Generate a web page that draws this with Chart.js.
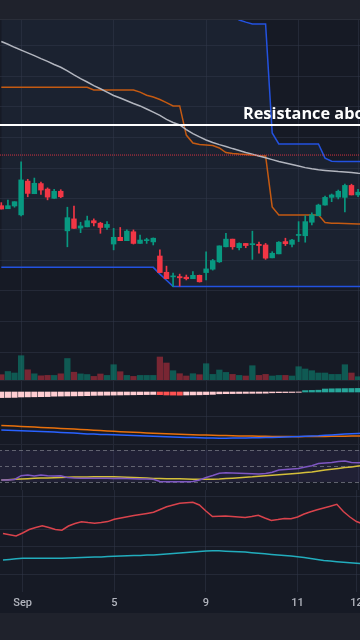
<!DOCTYPE html>
<html>
<head>
<meta charset="utf-8">
<script src="https://cdn.jsdelivr.net/npm/chart.js@4.4.1/dist/chart.umd.min.js"></script>
<style>
  html, body { margin: 0; padding: 0; }
  body { width: 360px; height: 640px; overflow: hidden; position: relative; background: #161a25; }
  .pane { position: absolute; left: -1.8px; width: 370px; }
  .sep { position: absolute; left: 0; width: 360px; height: 1px; background: #232733; }
  #topbar { position: absolute; left: 0; top: 0; width: 360px; height: 19px; background: #1f222c; border-bottom: 1px solid #2a2e39; }
  #bottombar { position: absolute; left: 0; top: 613px; width: 360px; height: 27px; background: #1f222c; }
  #resLabel { position: absolute; left: 243px; top: 104.5px; color: #fff; font: 700 16.3px/17px 'Open Sans', sans-serif; white-space: nowrap; }
</style>
</head>
<body>
<div id="topbar"></div>
<div class="pane" style="top:20px;height:360px"><canvas id="priceCanvas"></canvas></div>
<div class="sep" style="top:380px"></div>
<div class="pane" style="top:381px;height:63px"><canvas id="macdCanvas"></canvas></div>
<div class="sep" style="top:444px"></div>
<div class="pane" style="top:445px;height:45px"><canvas id="rsiCanvas"></canvas></div>
<div class="pane" style="top:490px;height:123px"><canvas id="oscCanvas"></canvas></div>
<div id="bottombar"></div>
<div id="resLabel">Resistance above</div>

<script>
// --- data ---

const tickIndex = [3, 17, 31, 45, 54];
const tickLabels = ['Sep', '5', '9', '11', '12'];

const opens  = [102.78, 102.68, 102.77, 102.48, 103.58, 103.17, 103.50, 103.32, 103.02, 103.25,
                101.96, 102.35, 102.05, 102.09, 102.29, 102.21, 102.07, 101.53, 101.75, 101.64,
                101.93, 101.55, 101.64, 101.60, 101.14, 100.61, 100.46, 100.47, 100.45, 100.40,
                100.51, 100.60, 100.71, 100.95, 101.44, 101.69, 101.41, 101.55, 101.51, 101.52,
                101.50, 101.08, 101.21, 101.61, 101.52, 101.81, 101.80, 102.24, 102.45, 102.80,
                103.05, 103.06, 103.05, 103.44, 103.13, 103.19];
const highs  = [102.88, 102.96, 102.91, 104.21, 103.64, 103.68, 103.55, 103.36, 103.31, 103.30,
                102.73, 102.77, 102.24, 102.44, 102.35, 102.24, 102.26, 102.04, 102.07, 101.99,
                101.99, 101.82, 101.72, 101.73, 101.34, 100.81, 100.58, 100.55, 100.52, 100.63,
                100.52, 101.28, 101.03, 101.47, 101.88, 101.69, 101.57, 101.55, 101.95, 101.59,
                101.55, 101.28, 101.61, 101.72, 101.68, 102.26, 102.45, 102.55, 102.83, 103.09,
                103.16, 103.29, 103.48, 103.48, 103.31, 103.33];
const lows   = [102.67, 102.68, 102.73, 102.45, 103.07, 103.17, 103.15, 102.97, 103.02, 103.04,
                101.44, 102.04, 101.90, 102.09, 102.12, 101.88, 102.01, 101.34, 101.64, 101.64,
                101.53, 101.55, 101.55, 101.50, 100.60, 100.40, 100.14, 100.16, 100.36, 100.40,
                100.29, 100.36, 100.68, 100.93, 101.44, 101.36, 101.34, 101.41, 101.03, 101.23,
                101.03, 101.08, 101.21, 101.48, 101.44, 101.61, 101.59, 102.15, 102.45, 102.80,
                102.91, 103.00, 102.58, 103.13, 103.07, 103.13];
const closes = [102.67, 102.78, 102.91, 103.62, 103.18, 103.51, 103.29, 103.06, 103.25, 103.07,
                102.39, 102.04, 102.12, 102.29, 102.22, 102.07, 102.17, 101.75, 101.64, 101.95,
                101.55, 101.66, 101.67, 101.72, 100.60, 100.40, 100.48, 100.43, 100.40, 100.51,
                100.30, 100.72, 100.99, 101.47, 101.69, 101.44, 101.55, 101.48, 101.53, 101.48,
                101.07, 101.23, 101.59, 101.54, 101.66, 101.83, 102.26, 102.48, 102.80, 103.05,
                103.13, 103.25, 103.44, 103.13, 103.22, 103.29];
const volumes = [5300, 8500, 7000, 24300, 10200, 6200, 4200, 4600, 4600, 6200,
                 21500, 7800, 6100, 5500, 3600, 6000, 4600, 15300, 8300, 4600,
                 3600, 4600, 4600, 4600, 23000, 17000, 9300, 6300, 4000, 6300,
                 5300, 16300, 5600, 10000, 7600, 5600, 4600, 4000, 14300, 4600,
                 5600, 4000, 4600, 4600, 4000, 13300, 11000, 9300, 7000, 7000,
                 5600, 5600, 15300, 7000, 3300, 5000];

const slowMa = [108.13, 108.04, 107.94, 107.85, 107.76, 107.67, 107.57, 107.48, 107.38, 107.29,
                107.17, 107.04, 106.92, 106.81, 106.69, 106.59, 106.48, 106.37, 106.29, 106.20,
                106.11, 106.03, 105.93, 105.83, 105.72, 105.59, 105.49, 105.41, 105.26, 105.13,
                105.02, 104.92, 104.84, 104.77, 104.71, 104.64, 104.58, 104.51, 104.46, 104.40,
                104.34, 104.28, 104.22, 104.17, 104.12, 104.07, 104.02, 103.98, 103.95, 103.93,
                103.91, 103.89, 103.88, 103.86, 103.84, 103.83];
const midLine = [106.64, 106.64, 106.64, 106.64, 106.64, 106.64, 106.64, 106.64, 106.64, 106.64,
                 106.64, 106.64, 106.64, 106.64, 106.55, 106.55, 106.55, 106.55, 106.55, 106.55,
                 106.55, 106.48, 106.38, 106.32, 106.24, 106.14, 106.03, 106.03, 105.08, 104.82,
                 104.77, 104.76, 104.74, 104.66, 104.51, 104.48, 104.46, 104.45, 104.43, 104.41,
                 104.40, 102.74, 102.48, 102.48, 102.48, 102.48, 102.48, 102.48, 102.48, 102.23,
                 102.21, 102.21, 102.20, 102.19, 102.18, 102.18];
const upperBand = [109.15, 109.15, 109.15, 109.15, 109.15, 109.15, 109.15, 109.15, 109.15, 109.15,
                   109.15, 109.15, 109.15, 109.15, 109.15, 109.15, 109.15, 109.15, 109.15, 109.15,
                   109.15, 109.15, 109.15, 109.15, 109.15, 109.15, 109.15, 109.15, 109.15, 109.15,
                   109.15, 109.15, 109.15, 109.15, 109.15, 108.99, 108.83, 108.76, 108.70, 108.70,
                   108.70, 105.15, 104.79, 104.79, 104.79, 104.79, 104.79, 104.79, 104.79, 104.33,
                   104.23, 104.22, 104.22, 104.22, 104.22, 104.22];
const lowerBand = [100.77, 100.77, 100.77, 100.77, 100.77, 100.77, 100.77, 100.77, 100.77, 100.77,
                   100.77, 100.77, 100.77, 100.77, 100.77, 100.77, 100.77, 100.77, 100.77, 100.77,
                   100.77, 100.77, 100.77, 100.77, 100.55, 100.35, 100.15, 100.15, 100.15, 100.15,
                   100.15, 100.15, 100.15, 100.15, 100.15, 100.15, 100.15, 100.15, 100.15, 100.15,
                   100.15, 100.15, 100.15, 100.15, 100.15, 100.15, 100.15, 100.15, 100.15, 100.15,
                   100.15, 100.15, 100.15, 100.15, 100.15, 100.15];
const resistanceLevel = 105.41;
const alertLevel = 104.43;
const priceTicks = [98, 99, 100, 101, 102, 103, 104, 105, 106, 107, 108];

const macdLine = [-0.381, -0.383, -0.386, -0.388, -0.391, -0.393, -0.396, -0.398, -0.401, -0.404,
                  -0.407, -0.411, -0.415, -0.419, -0.421, -0.424, -0.426, -0.428, -0.430, -0.433,
                  -0.435, -0.438, -0.440, -0.443, -0.445, -0.448, -0.450, -0.453, -0.455, -0.456,
                  -0.458, -0.460, -0.461, -0.463, -0.462, -0.461, -0.460, -0.459, -0.458, -0.457,
                  -0.455, -0.454, -0.453, -0.451, -0.448, -0.445, -0.443, -0.440, -0.438, -0.433,
                  -0.429, -0.424, -0.420, -0.417, -0.414, -0.411];
const signalLine = [-0.334, -0.337, -0.340, -0.344, -0.347, -0.350, -0.354, -0.357, -0.360, -0.364,
                    -0.367, -0.371, -0.375, -0.378, -0.382, -0.386, -0.390, -0.393, -0.397, -0.400,
                    -0.403, -0.406, -0.409, -0.412, -0.414, -0.417, -0.420, -0.423, -0.425, -0.427,
                    -0.429, -0.430, -0.432, -0.434, -0.436, -0.438, -0.440, -0.441, -0.441, -0.442,
                    -0.443, -0.444, -0.445, -0.445, -0.446, -0.447, -0.446, -0.446, -0.445, -0.444,
                    -0.443, -0.443, -0.442, -0.441, -0.440, -0.440];
const histogram = [-0.056, -0.055, -0.054, -0.050, -0.049, -0.048, -0.047, -0.046, -0.042, -0.041,
                   -0.040, -0.039, -0.038, -0.037, -0.034, -0.033, -0.032, -0.031, -0.030, -0.029,
                   -0.028, -0.027, -0.026, -0.025, -0.027, -0.030, -0.031, -0.032, -0.030, -0.029,
                   -0.028, -0.026, -0.024, -0.018, -0.017, -0.016, -0.015, -0.014, -0.0135, -0.013,
                   -0.012, -0.008, -0.007, -0.006, -0.005, -0.003, 0.014, 0.016, 0.018, 0.030,
                   0.032, 0.033, 0.034, 0.035, 0.036, 0.037];
const macdTicks = [-0.24];

const rsi = [32.5, 32.5, 33.1, 37.9, 38.75, 37.5, 38.75, 37.75, 37.5, 37.75,
             35.6, 35.0, 34.6, 34.6, 34.6, 34.75, 34.6, 34.4, 34.6, 34.4,
             34.0, 33.75, 33.75, 33.4, 30.6, 30.4, 30.4, 30.4, 30.4, 30.6,
             32.5, 35.6, 38.1, 40.9, 41.5, 41.25, 40.9, 40.5, 40.25, 40.0,
             40.75, 42.1, 45.0, 45.6, 46.25, 47.0, 48.75, 50.4, 53.0, 53.75,
             54.4, 55.6, 56.25, 54.4, 54.1, 54.4];
const rsiMa = [32.5, 32.9, 33.4, 33.75, 34.1, 34.6, 34.9, 35.1, 35.4, 35.6,
               35.9, 36.1, 36.25, 36.4, 36.5, 36.6, 36.6, 36.5, 36.25, 36.0,
               35.6, 35.25, 34.9, 34.5, 34.25, 34.1, 34.0, 34.0, 33.75, 33.5,
               33.4, 33.4, 33.5, 33.75, 34.25, 34.75, 35.4, 36.0, 36.5, 37.25,
               37.9, 38.5, 39.1, 39.75, 40.4, 41.0, 41.75, 42.6, 43.75, 44.9,
               46.0, 47.0, 48.0, 48.9, 49.9, 50.75];
const rsiLevels = [70, 50, 30];

const oscFast = [33.2, 32.6, 32.0, 33.5, 35.25, 36.25, 37.1, 36.25, 35.25, 34.9,
                 37.0, 38.25, 39.1, 38.7, 38.4, 38.75, 39.2, 40.35, 41.0, 41.6,
                 42.2, 42.75, 43.3, 43.9, 45.25, 46.65, 47.5, 48.35, 48.6, 48.85,
                 47.5, 44.5, 41.75, 41.85, 42.0, 41.75, 41.5, 41.2, 41.75, 42.4,
                 41.0, 39.75, 40.2, 40.75, 40.6, 41.5, 43.0, 44.1, 45.15, 46.0,
                 46.9, 47.85, 44.25, 41.5, 39.25, 38.0];
const oscSlow = [20.0, 20.3, 20.6, 20.85, 20.85, 20.85, 20.85, 20.85, 20.85, 20.85,
                 21.05, 21.15, 21.25, 21.35, 21.45, 21.55, 21.7, 21.85, 22.0, 22.1,
                 22.2, 22.3, 22.45, 22.55, 22.75, 22.95, 23.2, 23.45, 23.75, 24.0,
                 24.25, 24.5, 24.6, 24.6, 24.4, 24.25, 24.15, 23.95, 23.65, 23.4,
                 23.1, 22.8, 22.5, 22.25, 21.95, 21.65, 21.2, 20.75, 20.25, 19.8,
                 19.5, 19.15, 18.85, 18.6, 18.35, 18.15];
const oscTicks = [51.5, 35.5, 27, 13];

// --- styling ---

const GRID = 'rgba(50,56,74,0.5)';
const UP = '#089981';
const DOWN = '#f23645';

const categories = opens.map((_, i) => {
  const k = tickIndex.indexOf(i);
  return k >= 0 ? tickLabels[k] : '';
});
const candleColors = opens.map((o, i) => closes[i] >= o ? UP : DOWN);
const volColors = opens.map((o, i) => closes[i] >= o ? 'rgba(8,153,129,0.5)' : 'rgba(242,54,69,0.45)');
const bodies = opens.map((o, i) => [o, closes[i]]);
const wicks = lows.map((l, i) => [l, highs[i]]);
const histColors = histogram.map((h, i) => {
  const prev = i > 0 ? histogram[i - 1] : h - 1;
  if (h >= 0) return prev < h ? '#26a69a' : '#b2dfdb';
  return prev < h ? '#ffcdd2' : '#ff5252';
});

function xScale(showLabels) {
  return {
    type: 'category',
    offset: true,
    grid: {
      offset: false,
      drawTicks: false,
      color: c => tickIndex.includes(c.index) ? GRID : 'transparent'
    },
    border: { display: false },
    ticks: {
      display: showLabels,
      autoSkip: false,
      maxRotation: 0,
      minRotation: 0,
      padding: 5,
      color: '#b2b5be',
      font: { family: 'Roboto', size: 11, weight: '500' }
    },
    afterFit: s => { s.height = showLabels ? 21 : 0; }
  };
}

function yScale(min, max, ticks) {
  return {
    min: min,
    max: max,
    position: 'right',
    grid: { color: GRID, drawTicks: false },
    border: { display: false },
    ticks: { display: false },
    afterBuildTicks: s => { s.ticks = ticks.map(v => ({ value: v })); },
    afterFit: s => { s.width = 0; }
  };
}

const baseOptions = {
  responsive: true,
  maintainAspectRatio: false,
  animation: false,
  events: [],
  layout: { padding: 0, autoPadding: false },
  plugins: { legend: { display: false }, tooltip: { enabled: false } }
};

function lineSet(data, color, order, extra) {
  return Object.assign({
    type: 'line', data: data, borderColor: color, borderWidth: 1.5,
    pointRadius: 0, tension: 0, fill: false, order: order
  }, extra || {});
}

// horizontal levels on the price pane
const levelLines = {
  id: 'levelLines',
  afterDatasetsDraw(chart) {
    const { ctx, chartArea, scales } = chart;
    const levels = [
      { value: alertLevel, color: 'rgba(242,54,69,0.85)', width: 1, dash: [1, 1] },
      { value: resistanceLevel, color: '#ffffff', width: 2, dash: [] }
    ];
    levels.forEach(l => {
      const y = scales.y.getPixelForValue(l.value);
      ctx.save();
      ctx.strokeStyle = l.color;
      ctx.lineWidth = l.width;
      ctx.setLineDash(l.dash);
      ctx.beginPath();
      ctx.moveTo(chartArea.left, y);
      ctx.lineTo(chartArea.right, y);
      ctx.stroke();
      ctx.restore();
    });
  }
};

new Chart(document.getElementById('priceCanvas'), {
  type: 'bar',
  data: {
    labels: categories,
    datasets: [
      { type: 'bar', data: bodies, backgroundColor: candleColors, barThickness: 4.8, minBarLength: 1, grouped: false, order: 0 },
      { type: 'bar', data: wicks, backgroundColor: candleColors, barThickness: 1, grouped: false, order: 1 },
      lineSet(slowMa, '#b2b5be', 2),
      lineSet(midLine, '#c45a12', 3),
      lineSet(upperBand, '#2352e0', 4),
      lineSet(lowerBand, '#2352e0', 4, { fill: '-1', backgroundColor: '#1b2230' }),
      { type: 'bar', data: volumes, yAxisID: 'yv', backgroundColor: volColors, barThickness: 5.6, grouped: false, order: 9 }
    ]
  },
  options: Object.assign({}, baseOptions, {
    plugins: Object.assign({}, baseOptions.plugins, { filler: { drawTime: 'beforeDraw' } }),
    scales: {
      x: xScale(false),
      y: yScale(97.10, 108.83, priceTicks),
      yv: { display: false, min: 0, max: 360000 }
    }
  }),
  plugins: [levelLines]
});

new Chart(document.getElementById('macdCanvas'), {
  type: 'bar',
  data: {
    labels: categories,
    datasets: [
      lineSet(macdLine, '#2962ff', 0),
      lineSet(signalLine, '#e8700c', 1),
      { type: 'bar', data: histogram, backgroundColor: histColors, barThickness: 5.4, grouped: false, order: 2 }
    ]
  },
  options: Object.assign({}, baseOptions, {
    scales: { x: xScale(false), y: yScale(-0.52, 0.11, macdTicks) }
  })
});

const rsiBands = {
  id: 'rsiBands',
  beforeDatasetsDraw(chart) {
    const { ctx, chartArea: a, scales: { y } } = chart;
    const top = y.getPixelForValue(rsiLevels[0]);
    const bot = y.getPixelForValue(rsiLevels[2]);
    ctx.save();
    ctx.fillStyle = 'rgba(126,87,194,0.1)';
    ctx.fillRect(a.left, top, a.right - a.left, bot - top);
    ctx.strokeStyle = 'rgba(120,123,134,0.75)';
    ctx.lineWidth = 1;
    ctx.setLineDash([4, 3]);
    rsiLevels.forEach(v => {
      const py = Math.round(y.getPixelForValue(v)) + 0.5;
      ctx.beginPath();
      ctx.moveTo(a.left, py);
      ctx.lineTo(a.right, py);
      ctx.stroke();
    });
    ctx.restore();
  }
};

new Chart(document.getElementById('rsiCanvas'), {
  type: 'line',
  data: {
    labels: categories,
    datasets: [
      lineSet(rsi, '#7e57c2', 0),
      lineSet(rsiMa, '#d4bf3a', 1)
    ]
  },
  options: Object.assign({}, baseOptions, {
    scales: { x: xScale(false), y: yScale(20, 76.25, []) }
  }),
  plugins: [rsiBands]
});

new Chart(document.getElementById('oscCanvas'), {
  type: 'line',
  data: {
    labels: categories,
    datasets: [
      lineSet(oscFast, '#d9434c', 0),
      lineSet(oscSlow, '#22adbd', 1)
    ]
  },
  options: Object.assign({}, baseOptions, {
    scales: { x: xScale(true), y: yScale(4, 55, oscTicks) }
  })
});
</script>
</body>
</html>
